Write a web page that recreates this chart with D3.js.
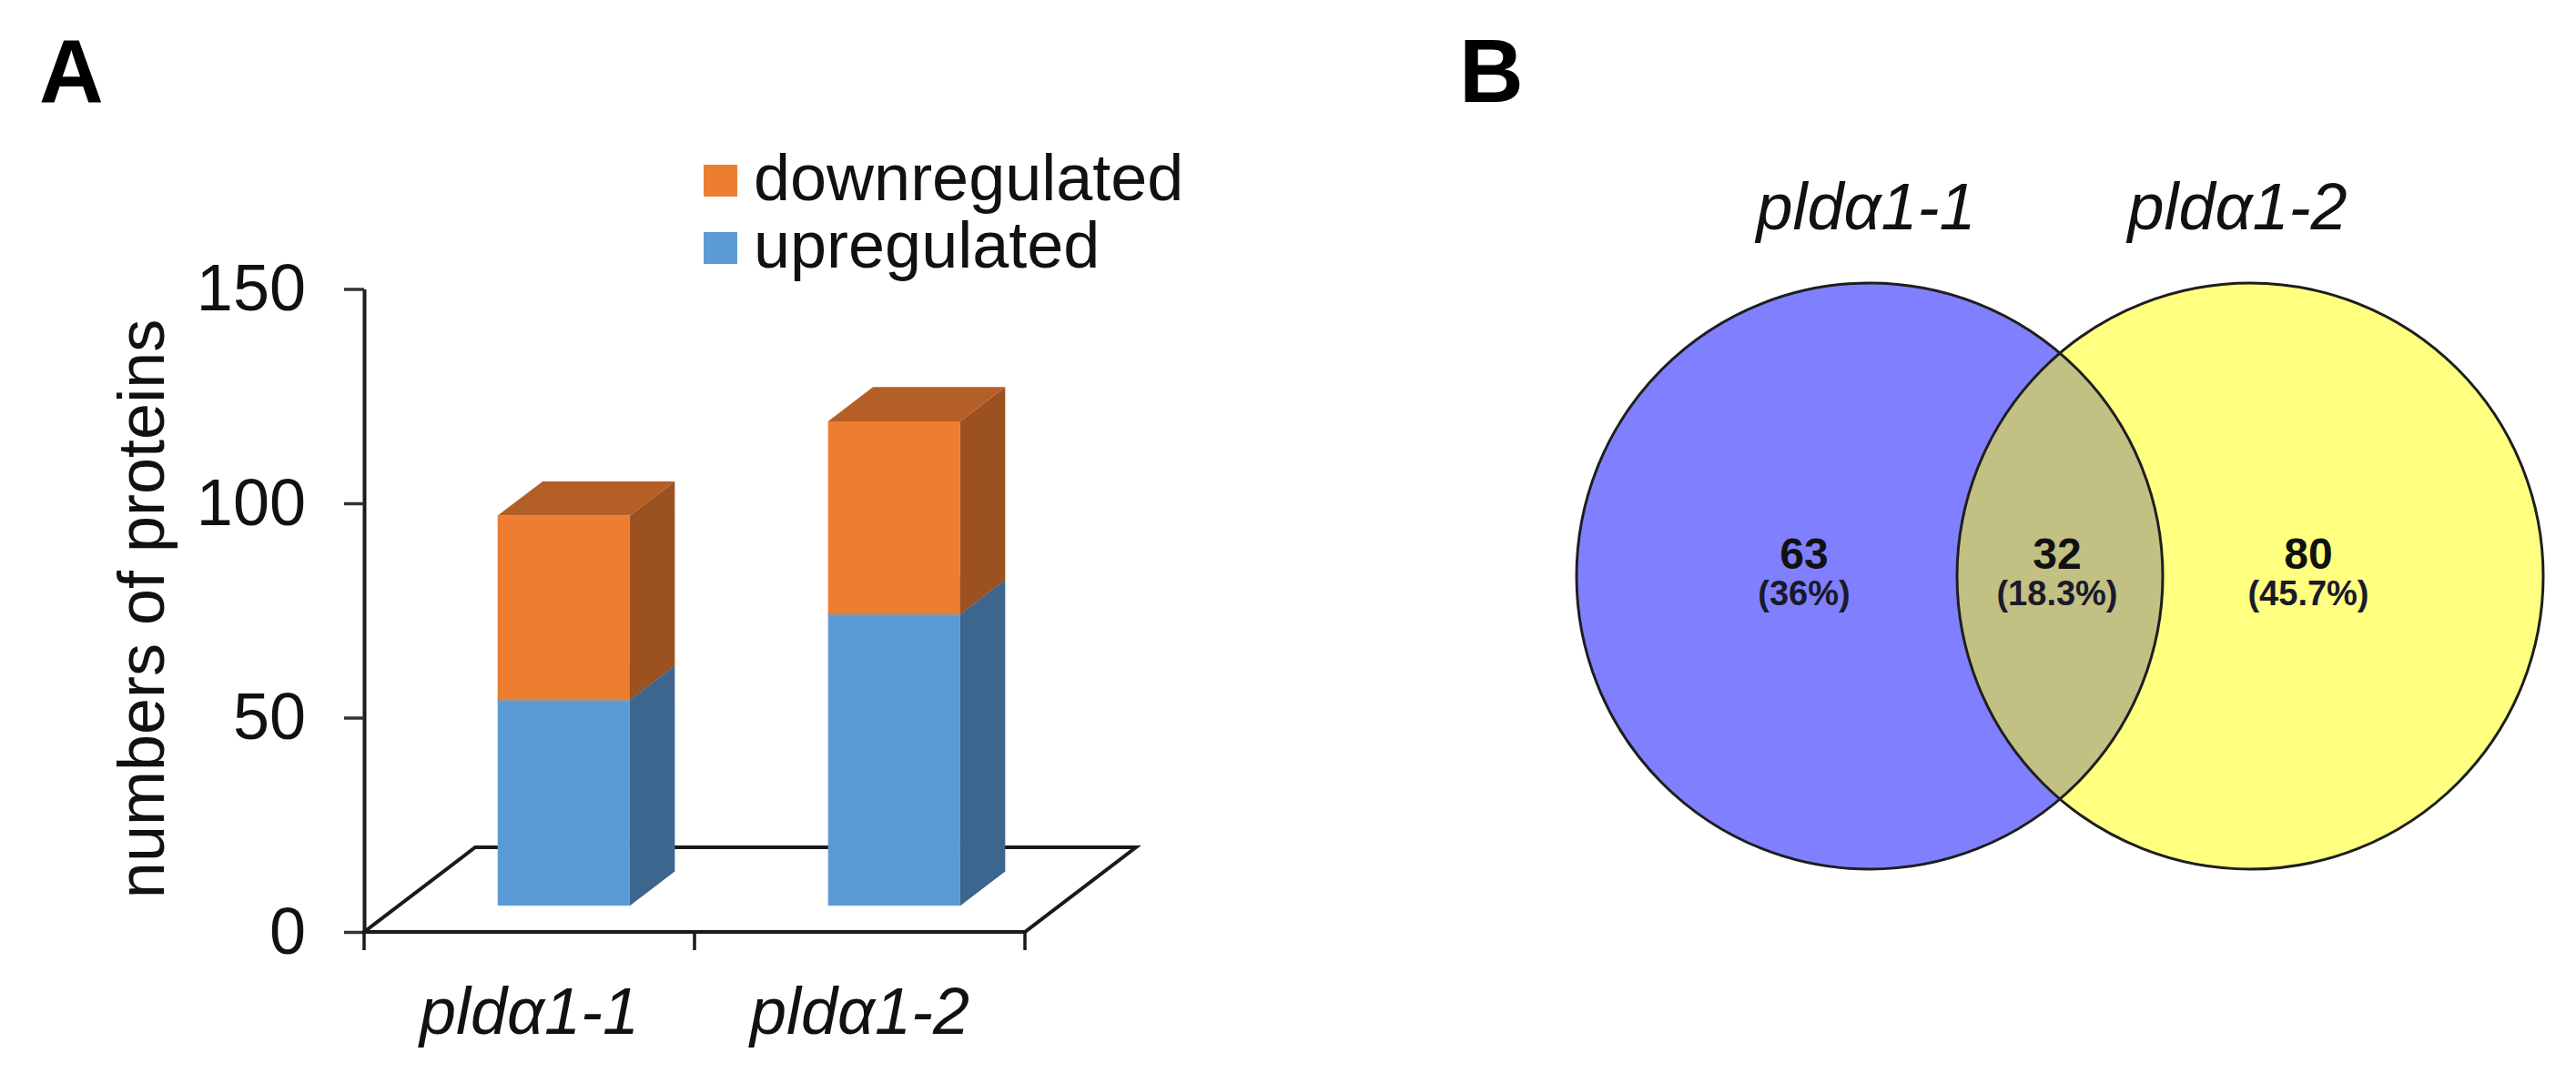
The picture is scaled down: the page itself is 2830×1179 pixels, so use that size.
<!DOCTYPE html>
<html>
<head>
<meta charset="utf-8">
<script src="https://cdn.jsdelivr.net/npm/d3@7"></script>
<style>
  body { margin: 0; background: #fff; }
  text { font-family: "Liberation Sans", Arial, sans-serif; }
</style>
</head>
<body>
<div id="figure"></div>
<script>
// ---- data ----
const categories = ["pldα1-1", "pldα1-2"];
const upregulated = [48, 68];
const downregulated = [43, 45];
const yTicks = [0, 50, 100, 150];
const legendNames = ["downregulated", "upregulated"];

const vennSets = ["pldα1-1", "pldα1-2"];
const vennCounts = [63, 32, 80]; // only 1-1, both, only 1-2

const width = 2830, height = 1179;

const svg = d3.select("#figure")
  .append("svg")
  .attr("width", width)
  .attr("height", height)
  .attr("viewBox", [0, 0, width, height]);

svg.append("rect").attr("width", width).attr("height", height).attr("fill", "#fff");

// panel letters
svg.append("text").attr("x", 43).attr("y", 112).attr("font-size", 98)
  .attr("font-weight", "bold").text("A");
svg.append("text").attr("x", 1603).attr("y", 112).attr("font-size", 98)
  .attr("font-weight", "bold").text("B");

/* ---------- panel A : 3D stacked bars ---------- */

const yScale = d3.scaleLinear()
  .domain([0, 150])
  .range([1024, 317.5]);

const xScale = d3.scaleBand()
  .domain(categories)
  .range([400, 1126]);

// oblique depth of the floor, and where the bars sit in it
const depth = { dx: 122, dy: -93 };
const f0 = 0.31, f1 = 0.715;

const rows = categories.map((c, i) => ({ cat: c, up: upregulated[i], down: downregulated[i] }));
const stacked = d3.stack().keys(["up", "down"])(rows);

const colors = {
  up:   { front: "#5b9bd5", side: "#3c668e", top: "#4a80b0" },
  down: { front: "#ed7d31", side: "#9c5220", top: "#b35f25" }
};

// floor
const x0 = xScale.range()[0], x1 = xScale.range()[1], y0 = yScale(0);
svg.append("polygon")
  .attr("points", [[x0, y0], [x1, y0], [x1 + depth.dx, y0 + depth.dy], [x0 + depth.dx, y0 + depth.dy]].join(" "))
  .attr("fill", "#fff")
  .attr("stroke", "#1a1a1a")
  .attr("stroke-width", 4);

// y axis
const yAxis = svg.append("g")
  .attr("transform", `translate(${x0},0)`)
  .call(d3.axisLeft(yScale).tickValues(yTicks).tickSize(22).tickSizeOuter(0).tickPadding(42));
yAxis.select(".domain").attr("stroke", "#1a1a1a").attr("stroke-width", 4);
yAxis.selectAll(".tick line").attr("stroke", "#333").attr("stroke-width", 3.5);
yAxis.selectAll(".tick text")
  .attr("font-size", 72)
  .attr("font-family", "'Liberation Sans', Arial, sans-serif")
  .attr("fill", "#111");

// category boundary ticks under the floor
const edges = categories.map(c => xScale(c)).concat([x1]);
svg.selectAll(".xtick")
  .data(edges)
  .enter()
  .append("line")
    .attr("class", "xtick")
    .attr("x1", d => d).attr("x2", d => d)
    .attr("y1", y0 - 2).attr("y2", y0 + 20)
    .attr("stroke", "#1a1a1a")
    .attr("stroke-width", 3.5);

svg.selectAll(".xlabel")
  .data(categories)
  .enter()
  .append("text")
    .attr("class", "xlabel")
    .attr("x", d => xScale(d) + xScale.bandwidth() / 2)
    .attr("y", 1136)
    .attr("text-anchor", "middle")
    .attr("font-size", 72)
    .attr("font-style", "italic")
    .attr("fill", "#111")
    .text(d => d);

svg.append("text")
  .attr("transform", "translate(180,669) rotate(-90)")
  .attr("text-anchor", "middle")
  .attr("font-size", 72)
  .attr("fill", "#111")
  .text("numbers of proteins");

// bars, each segment: side, front, top
const bw = xScale.bandwidth() * 0.4;
const bdx = (f1 - f0) * depth.dx, bdy = (f1 - f0) * depth.dy;

categories.forEach((c, i) => {
  const fx0 = xScale(c) + xScale.bandwidth() * 0.3 + f0 * depth.dx;
  const fx1 = fx0 + bw;
  stacked.forEach(layer => {
    const seg = layer[i];
    const col = colors[layer.key];
    const yb = yScale(seg[0]) + f0 * depth.dy;
    const yt = yScale(seg[1]) + f0 * depth.dy;
    const g = svg.append("g").attr("class", "bar " + layer.key);
    g.append("polygon")
      .attr("points", [[fx1, yb], [fx1 + bdx, yb + bdy], [fx1 + bdx, yt + bdy], [fx1, yt]].join(" "))
      .attr("fill", col.side);
    g.append("rect")
      .attr("x", fx0).attr("y", yt)
      .attr("width", fx1 - fx0).attr("height", yb - yt)
      .attr("fill", col.front);
    g.append("polygon")
      .attr("points", [[fx0, yt], [fx1, yt], [fx1 + bdx, yt + bdy], [fx0 + bdx, yt + bdy]].join(" "))
      .attr("fill", col.top);
  });
  // thin seam between the two segments
  const ys = yScale(upregulated[i]) + f0 * depth.dy;
  svg.append("line")
    .attr("x1", fx0).attr("x2", fx1)
    .attr("y1", ys).attr("y2", ys)
    .attr("stroke", "#a59188").attr("stroke-width", 2.5);
});

// legend
const legend = svg.append("g").attr("transform", "translate(773,181)");
legend.selectAll("rect")
  .data(legendNames)
  .enter()
  .append("rect")
    .attr("x", 0)
    .attr("y", (d, i) => i * 74)
    .attr("width", 37)
    .attr("height", 35)
    .attr("fill", d => d === "downregulated" ? colors.down.front : colors.up.front);
legend.selectAll("text")
  .data(legendNames)
  .enter()
  .append("text")
    .attr("x", 55)
    .attr("y", (d, i) => 39 + i * 74)
    .attr("font-size", 72)
    .attr("fill", "#111")
    .text(d => d);

/* ---------- panel B : Venn diagram ---------- */

const total = d3.sum(vennCounts);
const pct = d3.format(".1~%");

const venn = { cxL: 2054, cxR: 2472, cy: 633, r: 322 };

const defs = svg.append("defs");
defs.append("clipPath").attr("id", "clipLeft")
  .append("circle").attr("cx", venn.cxL).attr("cy", venn.cy).attr("r", venn.r);

svg.append("circle").attr("cx", venn.cxL).attr("cy", venn.cy).attr("r", venn.r).attr("fill", "#8080ff");
svg.append("circle").attr("cx", venn.cxR).attr("cy", venn.cy).attr("r", venn.r).attr("fill", "#ffff80");
svg.append("circle").attr("cx", venn.cxR).attr("cy", venn.cy).attr("r", venn.r)
  .attr("fill", "#c2c083").attr("clip-path", "url(#clipLeft)");
[venn.cxL, venn.cxR].forEach(cx => {
  svg.append("circle").attr("cx", cx).attr("cy", venn.cy).attr("r", venn.r)
    .attr("fill", "none").attr("stroke", "#1e1e1e").attr("stroke-width", 3);
});

svg.selectAll(".vennset")
  .data(vennSets)
  .enter()
  .append("text")
    .attr("class", "vennset")
    .attr("x", (d, i) => (i === 0 ? venn.cxL - 4 : venn.cxR - 14))
    .attr("y", 252)
    .attr("text-anchor", "middle")
    .attr("font-size", 72)
    .attr("font-style", "italic")
    .attr("fill", "#111")
    .text(d => d);

const regionX = [venn.cxL - 72, (venn.cxL + venn.cxR) / 2 - 3, venn.cxR + 64];
const regions = svg.selectAll(".region")
  .data(vennCounts)
  .enter()
  .append("g")
    .attr("class", "region")
    .attr("transform", (d, i) => `translate(${regionX[i]},0)`);
regions.append("text")
  .attr("y", 625)
  .attr("text-anchor", "middle")
  .attr("font-size", 48)
  .attr("font-weight", "bold")
  .attr("fill", "#111")
  .text(d => d);
regions.append("text")
  .attr("y", 665)
  .attr("text-anchor", "middle")
  .attr("font-size", 38)
  .attr("font-weight", "bold")
  .attr("fill", "#1a1a2a")
  .text(d => "(" + pct(d / total) + ")");
</script>
</body>
</html>
